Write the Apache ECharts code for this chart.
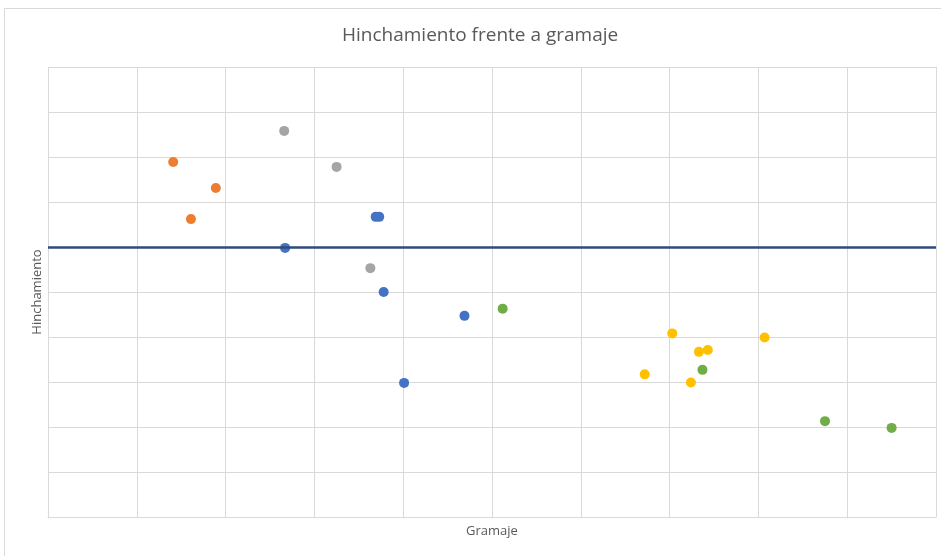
<!DOCTYPE html>
<html>
<head>
<meta charset="utf-8">
<script src="https://cdn.jsdelivr.net/npm/echarts@6/dist/echarts.min.js"></script>
<style>
  html, body { margin: 0; padding: 0; background: #ffffff; }
  #chart { width: 941px; height: 556px; }
</style>
</head>
<body>
<div id="chart"></div>
<script>
// Hinchamiento vs. gramaje, five sample groups (axes drawn without tick labels)
const serie1X = [2.67, 3.69, 3.73, 3.78, 4.69, 4.01];
const serie1Y = [5.98, 6.67, 6.67, 5.00, 4.47, 2.98];

const serie2X = [1.41, 1.89, 1.61];
const serie2Y = [7.89, 7.31, 6.62];

const serie3X = [2.66, 3.25, 3.63];
const serie3Y = [8.58, 7.78, 5.53];

const serie4X = [7.03, 7.33, 7.43, 6.72, 7.24, 8.07];
const serie4Y = [4.08, 3.67, 3.71, 3.17, 2.99, 3.99];

const serie5X = [5.12, 7.37, 8.75, 9.50];
const serie5Y = [4.63, 3.27, 2.13, 1.98];

// level where the horizontal axis crosses
const crossLevel = 6;

const groups = [
  { name: 'Serie 1', xs: serie1X, ys: serie1Y, color: '#4472C4' },
  { name: 'Serie 2', xs: serie2X, ys: serie2Y, color: '#ED7D31' },
  { name: 'Serie 3', xs: serie3X, ys: serie3Y, color: '#A5A5A5' },
  { name: 'Serie 4', xs: serie4X, ys: serie4Y, color: '#FFC000' },
  { name: 'Serie 5', xs: serie5X, ys: serie5Y, color: '#70AD47' }
];

const textColor = '#595959';
const gridColor = '#D9D9D9';
const fontStack = '"Open Sans", "Noto Sans", sans-serif';

const series = [{
  name: 'eje',
  type: 'scatter',
  data: [],
  z: 1,
  silent: true,
  markLine: {
    silent: true,
    symbol: ['none', 'none'],
    label: { show: false },
    lineStyle: { color: '#2F4A7E', width: 2.5, type: 'solid' },
    data: [{ yAxis: crossLevel }]
  }
}];

groups.forEach(g => {
  series.push({
    name: g.name,
    type: 'scatter',
    z: 3,
    symbol: 'circle',
    symbolSize: 10,
    itemStyle: { color: g.color, opacity: 1 },
    data: g.xs.map((x, i) => [x, g.ys[i]])
  });
});

const chart = echarts.init(document.getElementById('chart'), null, { renderer: 'canvas' });
chart.setOption({
  backgroundColor: '#ffffff',
  animation: false,
  title: {
    text: 'Hinchamiento frente a gramaje',
    left: 337,
    top: 21,
    textStyle: {
      fontFamily: fontStack,
      fontSize: 19,
      fontWeight: 'normal',
      color: textColor
    }
  },
  graphic: [{
    type: 'rect',
    shape: { x: 4.5, y: 8.5, width: 1000, height: 1000 },
    style: { fill: 'none', stroke: gridColor, lineWidth: 1 },
    silent: true,
    z: -1
  }],
  grid: { left: 48, top: 67, width: 888, height: 450, containLabel: false },
  xAxis: {
    type: 'value',
    min: 0,
    max: 10,
    interval: 1,
    name: 'Gramaje',
    nameLocation: 'middle',
    nameGap: 8,
    nameTextStyle: { fontFamily: fontStack, fontSize: 13, color: textColor },
    axisLine: { show: true, lineStyle: { color: gridColor, width: 1 } },
    axisTick: { show: false },
    axisLabel: { show: false },
    splitLine: { show: true, lineStyle: { color: gridColor, width: 1 } }
  },
  yAxis: {
    type: 'value',
    min: 0,
    max: 10,
    interval: 1,
    name: 'Hinchamiento',
    nameLocation: 'middle',
    nameGap: 4,
    nameTextStyle: { fontFamily: fontStack, fontSize: 13, color: textColor },
    axisLine: { show: false },
    axisTick: { show: false },
    axisLabel: { show: false },
    splitLine: { show: true, lineStyle: { color: gridColor, width: 1 } }
  },
  series: series
});
</script>
</body>
</html>
